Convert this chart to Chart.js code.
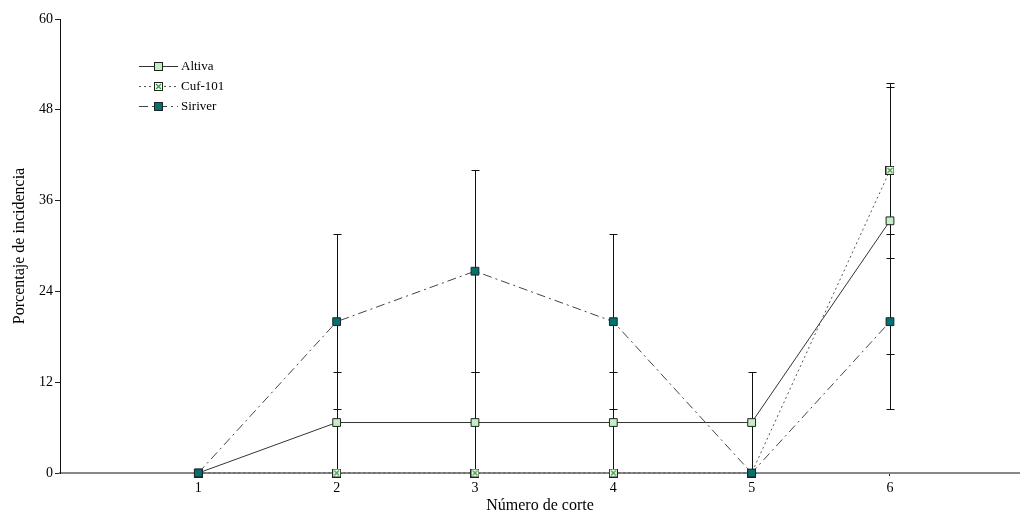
<!DOCTYPE html>
<html><head><meta charset="utf-8">
<script src="https://cdn.jsdelivr.net/npm/chart.js@4/dist/chart.umd.min.js"></script>
<style>html,body{margin:0;padding:0;background:#fff}#wrap{width:1020px;height:515px}</style>
</head><body><div id="wrap"><canvas id="c" width="1020" height="515"></canvas></div>
<script>
const cortes = [1, 2, 3, 4, 5, 6];
const yTicks = [0, 12, 24, 36, 48, 60];
const altiva = [0, 6.67, 6.67, 6.67, 6.67, 33.33];
const altivaErr = [0, 6.67, 6.67, 6.67, 6.67, 17.64];
const cuf101 = [0, 0, 0, 0, 0, 40];
const cuf101Err = [0, 0, 0, 0, 0, 11.55];
const siriver = [0, 20, 26.67, 20, 0, 20];
const siriverErr = [0, 11.55, 13.33, 11.55, 0, 11.55];

const FONT = '"Liberation Serif", "DejaVu Serif", serif';

function cufMarker() {
  const c = document.createElement('canvas');
  c.width = 9; c.height = 9;
  const g = c.getContext('2d');
  g.fillStyle = '#fff'; g.fillRect(0, 0, 9, 9);
  g.strokeStyle = '#2aa02a'; g.lineWidth = 1.2;
  g.beginPath(); g.moveTo(2, 2); g.lineTo(7, 7); g.moveTo(7, 2); g.lineTo(2, 7); g.stroke();
  g.strokeStyle = '#222'; g.lineWidth = 1;
  g.strokeRect(0.5, 0.5, 8, 8);
  return c;
}
const cufImg = cufMarker();

const series = [
  { label: 'Altiva', data: altiva, err: altivaErr, color: '#333', dash: [], fill: '#c4eec4', style: 'rect', order: 2 },
  { label: 'Cuf-101', data: cuf101, err: cuf101Err, color: '#555', dash: [2, 3], fill: '#fff', style: cufImg, order: 1 },
  { label: 'Siriver', data: siriver, err: siriverErr, color: '#444', dash: [9, 4, 2, 4], fill: '#007272', style: 'rect', order: 0 }
];

const errorBars = {
  id: 'errorBars',
  beforeDatasetsDraw(chart) {
    const { ctx, scales: { x, y } } = chart;
    ctx.save();
    ctx.strokeStyle = '#111'; ctx.lineWidth = 1;
    series.forEach(s => {
      s.data.forEach((v, i) => {
        const e = s.err[i];
        if (!e) return;
        const px = Math.round(x.getPixelForValue(cortes[i])) + 0.5;
        const t = Math.round(y.getPixelForValue(v + e)) + 0.5;
        const b = Math.round(y.getPixelForValue(v - e)) + 0.5;
        ctx.beginPath();
        ctx.moveTo(px, t); ctx.lineTo(px, b);
        ctx.moveTo(px - 4, t); ctx.lineTo(px + 4, t);
        ctx.moveTo(px - 4, b); ctx.lineTo(px + 4, b);
        ctx.stroke();
      });
    });
    ctx.restore();
  }
};

const legendBox = {
  id: 'legendBox',
  afterDraw(chart) {
    const { ctx } = chart;
    ctx.save();
    ctx.font = '13px ' + FONT;
    ctx.textBaseline = 'middle';
    series.forEach((s, i) => {
      const yy = 66.5 + i * 20;
      ctx.strokeStyle = s.color; ctx.lineWidth = 1;
      ctx.setLineDash(s.dash);
      ctx.beginPath(); ctx.moveTo(139, yy); ctx.lineTo(178, yy); ctx.stroke();
      ctx.setLineDash([]);
      if (s.style === 'rect') {
        ctx.fillStyle = s.fill; ctx.fillRect(154, yy - 4.5, 9, 9);
        ctx.strokeStyle = '#222'; ctx.strokeRect(154.5, yy - 4, 8, 8);
      } else {
        ctx.drawImage(s.style, 154, Math.round(yy - 4.5));
      }
      ctx.fillStyle = '#000';
      ctx.fillText(s.label, 181, yy);
    });
    ctx.restore();
  }
};

new Chart(document.getElementById('c'), {
  type: 'line',
  data: {
    datasets: series.map(s => ({
      label: s.label,
      data: s.data.map((v, i) => ({ x: cortes[i], y: v })),
      order: s.order,
      borderColor: s.color,
      borderWidth: 1,
      borderDash: s.dash,
      pointStyle: s.style,
      pointRadius: 5.5,
      pointBackgroundColor: s.fill,
      pointBorderColor: '#222',
      pointBorderWidth: 1,
      tension: 0,
      fill: false,
      clip: false
    }))
  },
  options: {
    responsive: false,
    animation: false,
    events: [],
    layout: { autoPadding: false, padding: { top: 19, right: 0, left: 10, bottom: 0 } },
    plugins: { legend: { display: false }, tooltip: { enabled: false } },
    scales: {
      x: {
        type: 'linear',
        min: 0, max: 6.94,
        afterBuildTicks(ax) { ax.ticks = cortes.map(v => ({ value: v })); },
        afterFit(ax) { ax.height = 42; },
        grid: { drawOnChartArea: false, tickLength: 3, color: '#222' },
        border: { color: '#888', width: 2 },
        ticks: { color: '#000', font: { family: FONT, size: 14 }, padding: 4, maxRotation: 0 },
        title: { display: true, text: 'Número de corte', color: '#000', font: { family: FONT, size: 16 }, padding: { top: 0, bottom: 0 } }
      },
      y: {
        min: 0, max: 60,
        afterBuildTicks(ax) { ax.ticks = yTicks.map(v => ({ value: v })); },
        afterFit(ax) { ax.width = 50; },
        grid: { drawOnChartArea: false, tickLength: 5, color: '#222' },
        border: { color: '#111', width: 1 },
        ticks: { color: '#000', font: { family: FONT, size: 14 }, padding: 2 },
        title: { display: true, text: 'Porcentaje de incidencia', color: '#000', font: { family: FONT, size: 16 }, padding: { top: 0, bottom: 2 } }
      }
    }
  },
  plugins: [errorBars, legendBox]
});
</script></body></html>
